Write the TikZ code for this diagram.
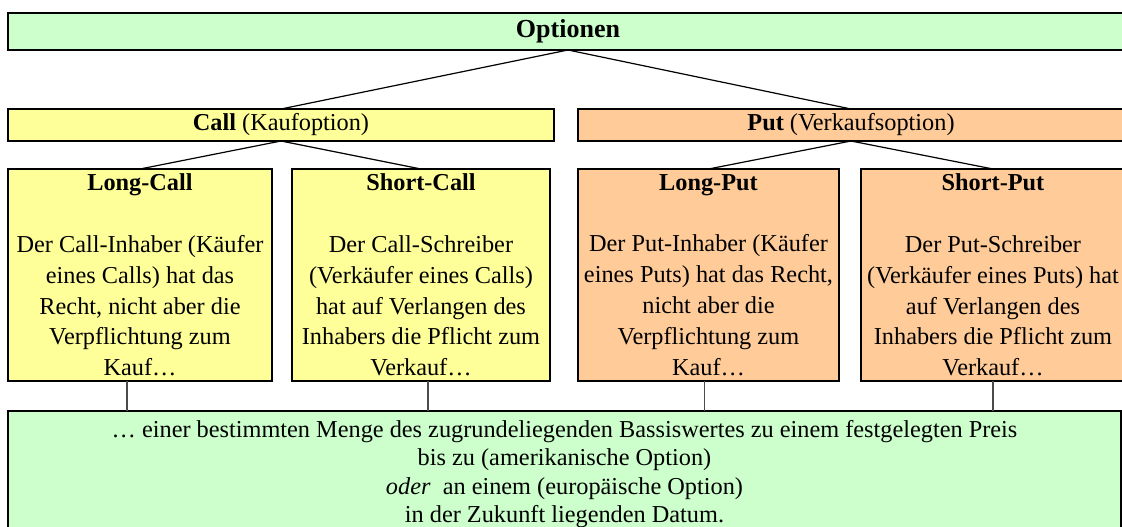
\documentclass[tikz,border=0pt]{standalone}
\usepackage{fontspec}
\setmainfont{Liberation Serif}
\newfontfamily\tnr{Liberation Serif}
\definecolor{optgreen}{HTML}{CCFFCC}
\definecolor{optyellow}{HTML}{FFFF99}
\definecolor{optorange}{HTML}{FFCC99}
\tikzset{
  boxbase/.style={draw=black, line width=1.8pt, inner sep=0pt, outer sep=0pt,
    anchor=north west, align=center,
    font=\tnr\fontsize{24.3}{30.8}\selectfont},
  headbox/.style={boxbase, minimum height=32pt},
  leafbox/.style={boxbase, minimum height=212pt},
  link/.style={line width=1.2pt, black},
  vlink/.style={line width=1.4pt, black!70},
}
\begin{document}
\begin{tikzpicture}[x=1pt, y=-1pt]
\clip (0,0) rectangle (1122,527);
% top
\node[boxbase, fill=optgreen, minimum width=1120pt, minimum height=37pt,
      font=\tnr\fontsize{26}{30}\selectfont\bfseries] (opt) at (8,13) {Optionen};
% level 1
\node[headbox, fill=optyellow, minimum width=546pt] (call) at (8,109)
  {\textbf{Call} (Kaufoption)};
\node[headbox, fill=optorange, minimum width=546pt] (put) at (578,109)
  {\textbf{Put} (Verkaufsoption)};
% level 2
\node[leafbox, fill=optyellow, minimum width=264pt] (lc) at (8,169)
  {\textbf{Long-Call}\\[30.8pt]
   Der Call-Inhaber (Käufer\\ eines Calls) hat das\\ Recht, nicht aber die\\
   Verpflichtung zum\\ Kauf…};
\node[leafbox, fill=optyellow, minimum width=258pt] (sc) at (292,169)
  {\textbf{Short-Call}\\[30.8pt]
   Der Call-Schreiber\\ (Verkäufer eines Calls)\\ hat auf Verlangen des\\
   Inhabers die Pflicht zum\\ Verkauf…};
\node[leafbox, fill=optorange, minimum width=261pt] (lp) at (578,169)
  {\textbf{Long-Put}\\[30.8pt]
   Der Put-Inhaber (Käufer\\ eines Puts) hat das Recht,\\ nicht aber die\\
   Verpflichtung zum\\ Kauf…};
\node[leafbox, fill=optorange, minimum width=264pt] (sp) at (861,169)
  {\textbf{Short-Put}\\[30.8pt]
   Der Put-Schreiber\\ (Verkäufer eines Puts) hat\\ auf Verlangen des\\
   Inhabers die Pflicht zum\\ Verkauf…};
% bottom
\node[boxbase, fill=optgreen, minimum width=1113pt, minimum height=126pt,
      font=\tnr\fontsize{24.3}{28.6}\selectfont] (bot) at (8,411)
  {… einer bestimmten Menge des zugrundeliegenden Bassiswertes zu einem festgelegten Preis\\
   bis zu (amerikanische Option)\\
   \textit{oder}~ an einem (europäische Option)\\
   in der Zukunft liegenden Datum.};
% connectors
\draw[link] (opt.south) -- (call.north);
\draw[link] (opt.south) -- (put.north);
\draw[link] (call.south) -- (lc.north);
\draw[link] (call.south) -- (sc.north);
\draw[link] (put.south) -- (lp.north);
\draw[link] (put.south) -- (sp.north);
\draw[vlink] ([xshift=-13pt]lc.south) -- ([xshift=-13pt]lc.south |- bot.north);
\draw[vlink] ([xshift=7pt]sc.south) -- ([xshift=7pt]sc.south |- bot.north);
\draw[vlink] ([xshift=-4pt]lp.south) -- ([xshift=-4pt]lp.south |- bot.north);
\draw[vlink] (sp.south) -- (sp.south |- bot.north);
\end{tikzpicture}
\end{document}
